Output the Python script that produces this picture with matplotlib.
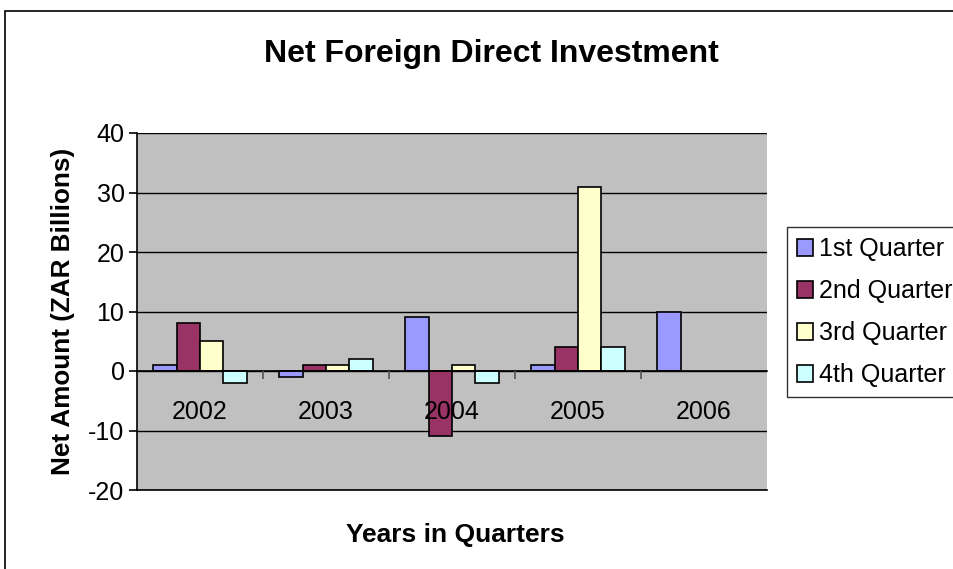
import numpy as np
import matplotlib.pyplot as plt
from matplotlib.patches import Rectangle

plt.rcParams['font.family'] = ['Liberation Sans', 'DejaVu Sans']
plt.rcParams['axes.unicode_minus'] = False

years = ['2002', '2003', '2004', '2005', '2006']
q1 = [1, -1, 9, 1, 10]
q2 = [8, 1, -11, 4, np.nan]
q3 = [5, 1, 1, 31, np.nan]
q4 = [-2, 2, -2, 4, np.nan]
series = [q1, q2, q3, q4]
labels = ['1st Quarter', '2nd Quarter', '3rd Quarter', '4th Quarter']
colors = ['#9999FF', '#993366', '#FFFFCC', '#CCFFFF']

W, H = 954, 569
fig = plt.figure(figsize=(W / 100, H / 100), dpi=100)

# outer chart border (runs off the right and bottom edges)
fig.patches.append(Rectangle((5 / W, -0.1), 1.2, 1 - 11 / H + 0.1,
                             transform=fig.transFigure, fill=False,
                             edgecolor='black', linewidth=1.2))

ax = fig.add_axes([137 / W, (H - 490) / H, 630 / W, 357 / H])
ax.set_facecolor('#C0C0C0')

x = np.arange(len(years))
bw = 0.185
for i, (vals, lab, col) in enumerate(zip(series, labels, colors)):
    ax.bar(x + (i - 1.5) * bw, vals, bw, color=col, edgecolor='black',
           linewidth=1.2, label=lab, zorder=3)

ax.set_xlim(-0.5, len(years) - 0.5)
ax.set_ylim(-20, 40)
ax.set_yticks(range(-20, 41, 10))
ax.yaxis.grid(True, color='black', linewidth=1)
ax.set_axisbelow(True)
ax.xaxis.set_zorder(5)
ax.axhline(-20, color='black', linewidth=1.2, clip_on=False, zorder=2)

for s in ['top', 'right']:
    ax.spines[s].set_visible(False)
ax.spines['left'].set_linewidth(1.2)
ax.spines['bottom'].set_position(('data', 0))
ax.spines['bottom'].set_linewidth(1.2)
ax.spines['bottom'].set_zorder(4)

ax.set_xticks(x)
ax.set_xticklabels(years)
ax.set_xticks(x[:-1] + 0.5, minor=True)
ax.tick_params(axis='x', which='major', length=0, pad=21, labelsize=18)
ax.tick_params(axis='x', which='minor', length=6, color='#555555', width=1.2)
ax.tick_params(axis='y', length=6, width=1.2, labelsize=18, pad=3)

fig.text(491 / W, 1 - 54 / H, 'Net Foreign Direct Investment', ha='center',
         va='center', fontsize=23, fontweight='bold')
fig.text(63 / W, 1 - 311 / H, 'Net Amount (ZAR Billions)', rotation=90,
         ha='center', va='center', fontsize=18.8, fontweight='bold')
fig.text(455 / W, 1 - 535 / H, 'Years in Quarters', ha='center', va='center',
         fontsize=19, fontweight='bold')

fig.legend(loc='upper left', bbox_to_anchor=(787 / W, 1 - 227 / H),
           frameon=True, fancybox=False, edgecolor='black', fontsize=18,
           handlelength=0.65, handleheight=0.65, handletextpad=0.25,
           labelspacing=0.72, borderpad=0.4, borderaxespad=0)

fig.savefig('out.png', dpi=100)
